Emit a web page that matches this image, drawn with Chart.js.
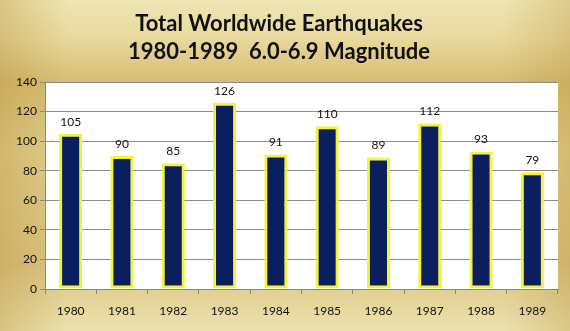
<!DOCTYPE html>
<html>
<head>
<meta charset="utf-8">
<script src="https://cdn.jsdelivr.net/npm/chart.js@4/dist/chart.umd.min.js"></script>
<style>
html,body{margin:0;padding:0;background:#e6d69a;}
#wrap{width:570px;height:331px;position:relative;}
</style>
</head>
<body>
<div id="wrap"><canvas id="c" width="570" height="331"></canvas></div>
<script>
const categories = ['1980','1981','1982','1983','1984','1985','1986','1987','1988','1989'];
const quakes = [105, 90, 85, 126, 91, 110, 89, 112, 93, 79];
const titleLines = ['Total Worldwide Earthquakes', '1980-1989  6.0-6.9 Magnitude'];
const yMin = 0, yMax = 140, yStep = 20;

const bgPlugin = {
  id: 'bg',
  beforeDraw(chart) {
    const ctx = chart.ctx, w = chart.width, h = chart.height;
    ctx.save();
    const g = ctx.createLinearGradient(0, 0, 0, h);
    g.addColorStop(0, '#efe6b4');
    g.addColorStop(0.12, '#e8d89c');
    g.addColorStop(0.25, '#d6bc72');
    g.addColorStop(0.45, '#e2cf8c');
    g.addColorStop(0.8, '#dcc482');
    g.addColorStop(1, '#ece2ae');
    ctx.fillStyle = g;
    ctx.fillRect(0, 0, w, h);
    const s = ctx.createLinearGradient(0, 0, w, 0);
    s.addColorStop(0, 'rgba(180,140,50,0.35)');
    s.addColorStop(0.12, 'rgba(180,140,50,0)');
    s.addColorStop(0.88, 'rgba(180,140,50,0)');
    s.addColorStop(1, 'rgba(180,140,50,0.3)');
    ctx.fillStyle = s;
    ctx.fillRect(0, 0, w, h);
    const a = chart.chartArea;
    ctx.fillStyle = '#ffffff';
    ctx.fillRect(a.left, a.top, a.right - a.left, a.bottom - a.top);
    ctx.restore();
  }
};

const labelPlugin = {
  id: 'vals',
  afterDatasetsDraw(chart) {
    const ctx = chart.ctx;
    const meta = chart.getDatasetMeta(0);
    ctx.save();
    ctx.font = '12px Lato, "DejaVu Sans", sans-serif';
    ctx.fillStyle = '#111111';
    ctx.textAlign = 'center';
    ctx.textBaseline = 'bottom';
    meta.data.forEach((bar, i) => {
      ctx.fillText(String(chart.data.datasets[0].data[i]), bar.x, bar.y - 6);
    });
    ctx.restore();
  }
};

new Chart(document.getElementById('c'), {
  type: 'bar',
  data: {
    labels: categories,
    datasets: [{
      data: quakes,
      backgroundColor: '#0b1f5e',
      borderColor: '#f4f430',
      borderWidth: 3,
      borderSkipped: false,
      categoryPercentage: 0.9,
      barPercentage: 0.5
    }]
  },
  options: {
    responsive: false,
    animation: false,
    devicePixelRatio: 1,
    layout: { padding: { left: 0, right: 12, top: 0, bottom: 0 } },
    plugins: {
      legend: { display: false },
      tooltip: { enabled: false },
      title: {
        display: true,
        text: titleLines,
        color: '#111111',
        font: { family: 'Lato, "DejaVu Sans", sans-serif', size: 22, weight: 'bold', lineHeight: '28px' },
        padding: { top: 10, bottom: 16 }
      }
    },
    scales: {
      x: {
        offset: true,
        grid: { offset: true, drawOnChartArea: false, drawTicks: true, tickLength: 5, color: '#888888' },
        border: { display: true, color: '#888888', width: 1 },
        ticks: { color: '#111111', font: { family: 'Lato, "DejaVu Sans", sans-serif', size: 12 }, padding: 10, maxRotation: 0 },
        afterFit(scale) { scale.height = 42; }
      },
      y: {
        min: yMin, max: yMax,
        grid: { color: '#8c8c8c', drawTicks: true, tickLength: 5, lineWidth: 1 },
        border: { display: true, color: '#888888', width: 1 },
        ticks: { stepSize: yStep, color: '#111111', font: { family: 'Lato, "DejaVu Sans", sans-serif', size: 12 }, padding: 3 },
        afterFit(scale) { scale.width = 45; }
      }
    }
  },
  plugins: [bgPlugin, labelPlugin]
});
</script>
</body>
</html>
